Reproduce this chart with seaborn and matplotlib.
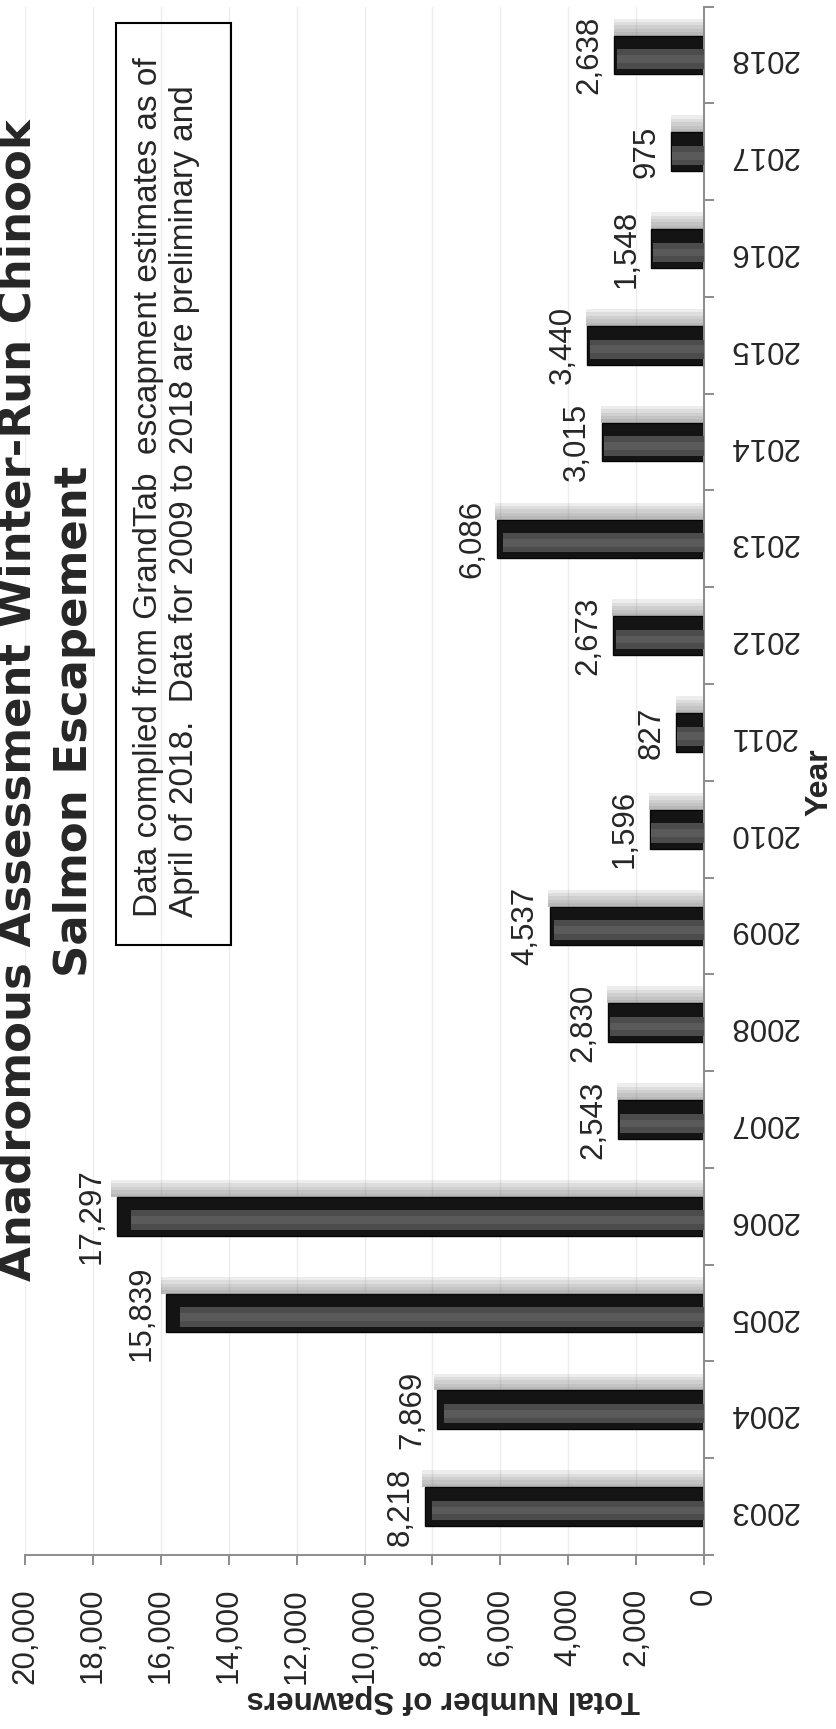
import matplotlib
matplotlib.use("Agg")
import numpy as np
import pandas as pd
import matplotlib.pyplot as plt
import seaborn as sns
from matplotlib.patches import Rectangle
from matplotlib.ticker import FixedLocator

###################################################################
# data
###################################################################

years = ['2003', '2004', '2005', '2006', '2007', '2008', '2009', '2010',
         '2011', '2012', '2013', '2014', '2015', '2016', '2017', '2018']
spawners = [8218, 7869, 15839, 17297, 2543, 2830, 4537, 1596,
            827, 2673, 6086, 3015, 3440, 1548, 975, 2638]

value_ticks = list(range(0, 20001, 2000))

title_lines = ['Anadromous Assessment Winter-Run Chinook', 'Salmon Escapement']
note_lines = ['Data complied from GrandTab  escapment estimates as of',
              'April of 2018.  Data for 2009 to 2018 are preliminary and']
x_label = 'Total Number of Spawners'
y_label = 'Year'

###################################################################
# setup
###################################################################

sns.set_style('white')
plt.rcParams['font.family'] = ['Liberation Sans', 'DejaVu Sans']

W, H = 836, 1729
fig = plt.figure(figsize=(W / 100, H / 100), dpi=100)


def fx(px):
    return px / W


def fy(py):
    return 1 - py / H


axis_grey = '#8c8c8c'

# the page is scanned sideways: value axis runs right->left, years bottom->top
ax = fig.add_axes([fx(25), fy(1555), (704 - 25) / W, (1555 - 6.6) / H])

df = pd.DataFrame({'Year': years, 'Spawners': spawners})
order = years[::-1]
df['pos'] = [order.index(y) for y in df['Year']]

# soft shadow above each bar
for k in range(5):
    h = 0.035 * (k + 1)
    ax.barh(df['pos'] - 0.2 - h / 2, df['Spawners'] * 1.01, height=h,
            color='#6e6e6e', alpha=0.12, lw=0, zorder=0.8)

sns.barplot(data=df, x='Spawners', y='Year', order=order, orient='h',
            width=0.4, color='#141414', edgecolor='#050505', linewidth=1,
            saturation=1, ax=ax, zorder=2)

# lighter inner band for the bevelled look
ax.barh(df['pos'] + 0.04, df['Spawners'] * 0.975, height=0.2,
        color='#4c4c4c', lw=0, zorder=3)
ax.barh(df['pos'] + 0.04, df['Spawners'] * 0.975, height=0.08,
        color='#5a5a5a', lw=0, zorder=3)

for _, r in df.iterrows():
    ax.annotate(f"{r['Spawners']:,}", xy=(r['Spawners'], r['pos']),
                xytext=(-7, 0), textcoords='offset points',
                ha='right', va='center', rotation=90, fontsize=22.5)

###################################################################
# axes
###################################################################

ax.set_xlim(20000, 0)
ax.set_ylim(15.5, -0.5)
ax.set_xlabel('')
ax.set_ylabel('')

ax.set_xticks(value_ticks)
ax.set_xticklabels([f'{v:,}' for v in value_ticks], rotation=90, fontsize=22.5)
ax.tick_params(axis='x', which='major', bottom=True, length=7.2, width=1.4,
               color=axis_grey, pad=16.5)

ax.yaxis.tick_right()
ax.set_yticks(range(len(order)))
ax.set_yticklabels(order, rotation=180, fontsize=22.5)
ax.yaxis.set_minor_locator(FixedLocator(np.arange(-0.5, len(order), 1)))
ax.tick_params(axis='y', which='major', length=0, pad=18)
ax.tick_params(axis='y', which='minor', right=True, left=False, length=7.2,
               width=1.4, color=axis_grey)

for s in ['left', 'top']:
    ax.spines[s].set_visible(False)
for s in ['right', 'bottom']:
    ax.spines[s].set_color(axis_grey)
    ax.spines[s].set_linewidth(1.4)

ax.grid(axis='x', color='#ededed', lw=1)
ax.grid(axis='y', visible=False)
ax.set_axisbelow(True)

###################################################################
# titles and notes
###################################################################

fig.text(fx(31), fy(700), title_lines[0], rotation=90, rotation_mode='anchor',
         ha='center', va='baseline', fontsize=32.4, fontweight='bold',
         family=['DejaVu Sans'])
fig.text(fx(87), fy(721), title_lines[1], rotation=90, rotation_mode='anchor',
         ha='center', va='baseline', fontsize=32.4, fontweight='bold',
         family=['DejaVu Sans'])

fig.patches.append(Rectangle((fx(116), fy(945)), (231 - 116) / W, (945 - 23) / H,
                             transform=fig.transFigure, fill=False,
                             ec='black', lw=1.5))
fig.text(fx(157), fy(917), note_lines[0], rotation=90, rotation_mode='anchor',
         ha='left', va='baseline', fontsize=24)
fig.text(fx(193), fy(917), note_lines[1], rotation=90, rotation_mode='anchor',
         ha='left', va='baseline', fontsize=24)

fig.text(fx(827), fy(782), y_label, rotation=90, rotation_mode='anchor',
         ha='center', va='baseline', fontsize=23, fontweight='bold')
fig.text(fx(443), fy(1691), x_label, rotation=180, rotation_mode='anchor',
         ha='center', va='baseline', fontsize=22.5, fontweight='bold')

fig.savefig('out.png', dpi=100)
